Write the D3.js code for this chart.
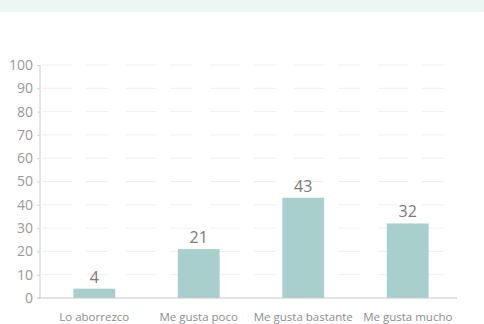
<!DOCTYPE html>
<html>
<head>
<meta charset="utf-8">
<script src="https://cdn.jsdelivr.net/npm/d3@7"></script>
<style>
  html, body { margin: 0; padding: 0; background: #ffffff; }
  svg { display: block; }
  text { font-family: "Open Sans", "Liberation Sans", sans-serif; }
</style>
</head>
<body>
<svg id="chart" width="484" height="324"></svg>
<script>
// Survey answers and their percentages
const categories = ["Lo aborrezco", "Me gusta poco", "Me gusta bastante", "Me gusta mucho"];
const values = [4, 21, 43, 32];
const yTicks = [0, 10, 20, 30, 40, 50, 60, 70, 80, 90, 100];

const svg = d3.select("#chart");
const W = 484, H = 324;

// Pale tinted strip along the top edge
svg.append("rect")
  .attr("x", 0).attr("y", 0).attr("width", W).attr("height", 12)
  .attr("fill", "#ecf6f3");

const margin = { left: 40, right: 27, top: 65, bottom: 26 };
const x = d3.scaleBand()
  .domain(categories)
  .range([42, 460])
  .paddingInner(0.6)
  .paddingOuter(0.3);
const y = d3.scaleLinear()
  .domain([0, 100])
  .range([H - margin.bottom, margin.top]);

// Faint broken horizontal grid
svg.append("g")
  .selectAll("line")
  .data(yTicks.filter(d => d > 0))
  .join("line")
  .attr("x1", margin.left + 2)
  .attr("x2", 457)
  .attr("y1", d => y(d))
  .attr("y2", d => y(d))
  .attr("stroke", "#efefef")
  .attr("stroke-width", 1)
  .attr("stroke-dasharray", "30,14,22,18");

// Bars
svg.append("g")
  .selectAll("rect")
  .data(values)
  .join("rect")
  .attr("x", (d, i) => x(categories[i]))
  .attr("y", d => y(d))
  .attr("width", x.bandwidth())
  .attr("height", d => y(0) - y(d))
  .attr("fill", "#a9cfcd");

// Value labels above bars
svg.append("g")
  .selectAll("text")
  .data(values)
  .join("text")
  .attr("x", (d, i) => x(categories[i]) + x.bandwidth() / 2)
  .attr("y", d => y(d) - 6)
  .attr("text-anchor", "middle")
  .attr("font-family", "'Liberation Sans', sans-serif")
  .attr("font-size", 16)
  .attr("fill", "#7a7a7a")
  .text(d => d);

// Y axis
const yAxis = svg.append("g")
  .attr("transform", `translate(${margin.left},0)`)
  .call(d3.axisLeft(y).tickValues(yTicks).tickSize(3).tickPadding(4));
yAxis.select(".domain").attr("stroke", "#cccccc").attr("d", `M-3,${y(0)}H0V${y(100)}`);
yAxis.selectAll(".tick line").attr("stroke", "#d4d4d4");
yAxis.selectAll(".tick text")
  .attr("font-family", "'Liberation Sans Narrow', 'Liberation Sans', sans-serif")
  .attr("font-size", 14)
  .attr("fill", "#999999");

// X axis
const xAxis = svg.append("g")
  .attr("transform", `translate(0,${y(0)})`)
  .call(d3.axisBottom(x).tickSize(0).tickPadding(15));
xAxis.select(".domain").attr("stroke", "#c8c8c8").attr("d", `M${margin.left},0H457`);
xAxis.selectAll(".tick text")
  .attr("font-family", "'Open Sans', 'Liberation Sans', sans-serif")
  .attr("font-size", 11.5)
  .attr("fill", "#8c8c8c");
</script>
</body>
</html>
